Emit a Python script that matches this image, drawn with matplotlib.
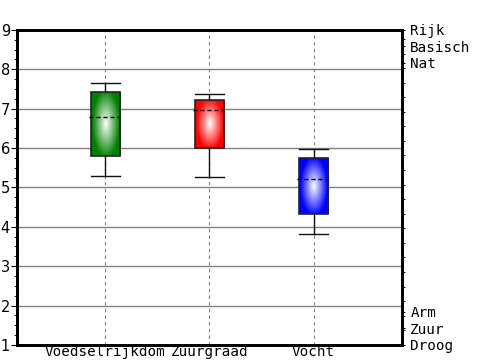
import numpy as np
import matplotlib
matplotlib.use("Agg")
import matplotlib.pyplot as plt
from matplotlib.patches import Rectangle
from matplotlib.colors import to_rgb

categories = ["Voedselrijkdom", "Zuurgraad", "Vocht"]
whisker_lo = [5.29, 5.27, 3.82]
q1 = [5.80, 6.00, 4.33]
median = [6.80, 6.97, 5.22]
q3 = [7.43, 7.22, 5.75]
whisker_hi = [7.65, 7.38, 5.98]
colors = ["#008000", "#ff0000", "#0000ff"]
right_ticks = [1.0, 1.42, 1.84, 8.16, 8.58, 9.0]
right_labels = ["Droog", "Zuur", "Arm", "Nat", "Basisch", "Rijk"]

mono = "DejaVu Sans Mono"

fig = plt.figure(figsize=(5, 3.6), dpi=100)
ax = fig.add_axes([0.034, 0.042, 0.77, 0.875])
ax.set_xlim(0.15, 3.85)
ax.set_ylim(1, 9)

pos = np.arange(1, len(categories) + 1)
ax.set_yticks(range(1, 10))
ax.set_yticks(np.arange(1, 9.01, 0.25), minor=True)
ax.yaxis.grid(True, color="#808080", lw=1.0)
for x in pos:
    ax.axvline(x, color="#808080", lw=0.8, ls=(0, (3, 3)), zorder=0.5)
ax.set_axisbelow(True)

w = 0.28
yy, xx = np.mgrid[-1:1:100j, -1:1:100j]
r = np.clip(np.sqrt(xx ** 2 + (yy * 0.85) ** 2), 0, 1)
for x, lo, a, m, b, hi, c in zip(pos, whisker_lo, q1, median, q3, whisker_hi, colors):
    rgb = np.array(to_rgb(c))
    t = np.clip(r * 1.1, 0, 1)[..., None]
    img = (1 - t) * np.ones(3) + t * rgb
    rect = Rectangle((x - w / 2, a), w, b - a, facecolor="none",
                     edgecolor="#222222", lw=1.2, zorder=3)
    ax.add_patch(rect)
    im = ax.imshow(img, extent=(x - w / 2, x + w / 2, a, b), aspect="auto",
                   zorder=2, interpolation="bilinear")
    im.set_clip_path(rect)
    ax.plot([x, x], [b, hi], color="#111111", lw=1.0, zorder=3)
    ax.plot([x, x], [lo, a], color="#111111", lw=1.0, zorder=3)
    ax.plot([x - w / 2, x + w / 2], [hi, hi], color="#111111", lw=1.0, zorder=3)
    ax.plot([x - w / 2, x + w / 2], [lo, lo], color="#111111", lw=1.0, zorder=3)
    ax.plot([x - w / 2 - 0.02, x + w / 2], [m, m], color="black", lw=1.0,
            ls=(0, (3, 2)), zorder=4)

ax.set_xticks(pos)
ax.set_xticklabels(categories, family=mono, fontsize=10.3)
ax.tick_params(axis="x", length=0, pad=0)
ax.tick_params(axis="y", which="major", length=4, pad=1, labelsize=10.5)
ax.tick_params(axis="y", which="minor", length=2)
for s in ax.spines.values():
    s.set_linewidth(2)

ax2 = ax.twinx()
ax2.set_ylim(1, 9)
ax2.set_yticks(right_ticks)
ax2.set_yticklabels(right_labels, family=mono, fontsize=10.3)
ax2.set_yticks(np.arange(1, 9.01, 0.37), minor=True)
ax2.tick_params(axis="y", which="major", length=2, pad=4)
ax2.tick_params(axis="y", which="minor", length=2)
for s in ax2.spines.values():
    s.set_linewidth(2)

fig.savefig("out.png", dpi=100)
